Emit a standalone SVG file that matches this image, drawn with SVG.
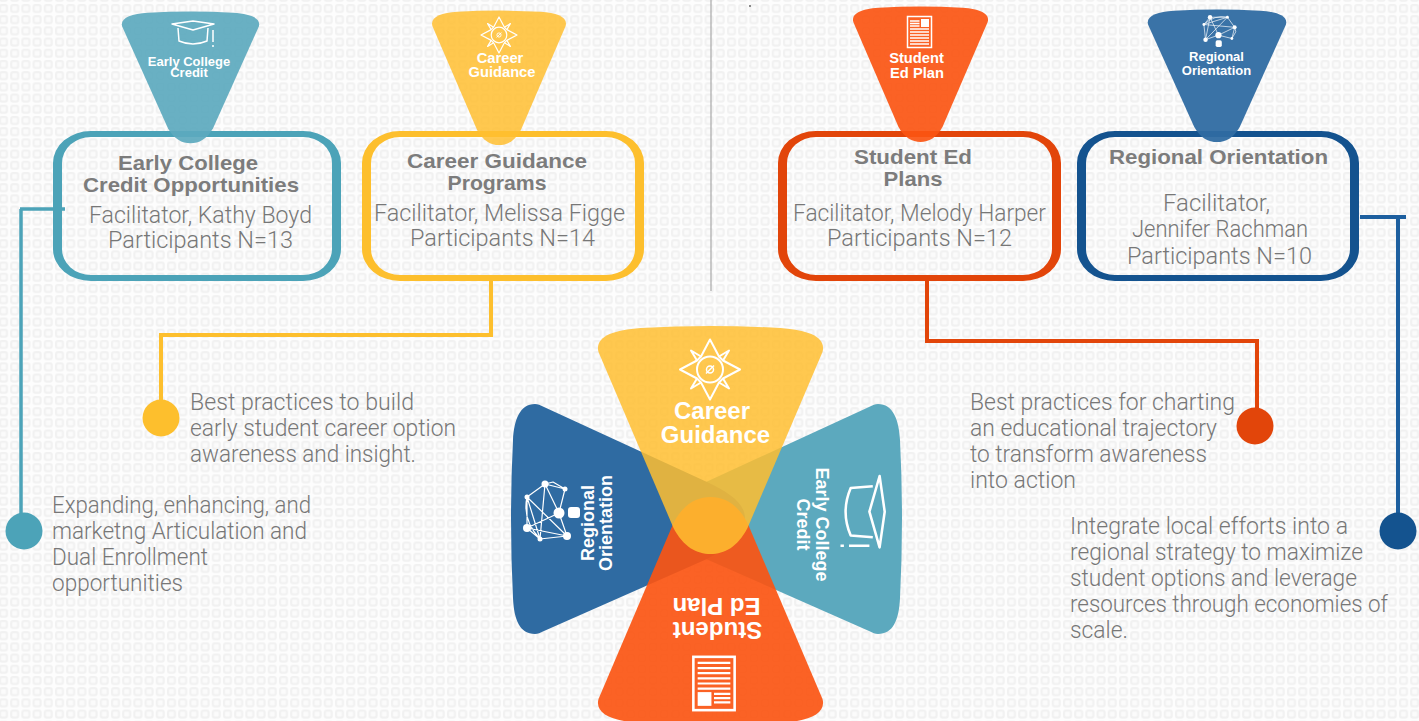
<svg xmlns="http://www.w3.org/2000/svg" width="1419" height="721" viewBox="0 0 1419 721">
<style>
.ft{font-family:"Liberation Sans",Arial,sans-serif;font-weight:700;fill:#fff;text-anchor:middle}
.tt{font-family:"Liberation Sans",Arial,sans-serif;font-weight:700;font-size:21px;fill:#7c7c7c;text-anchor:middle}
.bd{font-family:Roboto,"Liberation Sans",sans-serif;font-weight:300;font-size:24px;fill:#777}
.con{fill:none;stroke-width:4}
.ic{fill:none;stroke:#fff;stroke-linejoin:round}
.teal{fill:#5ca9be}.yel{fill:#ffbe30;fill-opacity:.85}.ora{fill:#fb5512;fill-opacity:.92}.blu{fill:#2f6ba2}
</style>
<defs>
<pattern id="bg" width="11.2" height="11.2" patternUnits="userSpaceOnUse" x="-2" y="3">
<rect width="11.2" height="11.2" fill="#fdfdfd"/>
<rect x="2" y="2" width="7" height="7" rx="2" fill="#fbfbfb" stroke="#f1f1f1" stroke-width="2"/>
</pattern>
<path id="funnel" d="M-112 27C-116 12-98 5-70 3Q0-1 70 3C98 5 116 12 112 27L37 203C27 222 14 229 0 229C-14 229-27 222-37 203Z"/>
<path id="side" d="M535 404C520 404 514 420 513 440Q509 519 513 598C514 620 520 634 535 634C538 634 540 633 544 631L707 559C730 547 745 535 745 519C745 503 730 493 707 482L544 407C540 405 538 404 535 404Z"/>
<g id="compass" class="ic" stroke-width="2">
<circle r="13"/>
<path d="M0-30L9-13L13-9L30 0L13 9L9 13L0 30L-9 13L-13 9L-30 0L-13-9L-9-13Z"/>
<path d="M9-13L19-19L13-9M13 9L19 19L9 13M-9 13L-19 19L-13 9M-13-9L-19-19L-9-13"/>
<path d="M-4 4L4-4" stroke-width="1.5"/><circle r="3.5" stroke-width="1.5"/>
</g>
<g id="cap" class="ic" stroke-width="1.5">
<path d="M-20-8L1-11L22-8L1-2Z"/>
<path d="M-14-4L-13 9Q1 15 15 9L16-4"/>
<path d="M21-2V10M21 13V15"/>
</g>
<g id="doc">
<rect x="-12" y="-15.500" width="24" height="31" fill="none" stroke="#fff" stroke-width="1.500"/>
<rect x="1.500" y="-13" width="8" height="8" fill="#fff"/>
<path d="M-9.500-11H0M-9.500-8.500H0M-9.500-6H0M-9.500-3H9.500M-9.500 0H9.500M-9.500 3H9.500M-9.500 6H9.500M-9.500 9H9.500M-9.500 12H9.500" stroke="#fff" stroke-width="1.300"/>
</g>
<g id="net">
<path class="ic" stroke-width="1.200" d="M-3-28L17-23L11 1L-21 16L-8 27L19 24L11 1M-3-28L-21-15L-21 16M-3-28L-8 27M-3-28L11 1M-21-15L19 24M-21-15L-8 27M-21 16L19 24M17-23L5-30L-3-28M-21-15Q-26 8-8 27"/>
<g fill="#fff"><circle cx="-3" cy="-28" r="3.500"/><circle cx="17" cy="-23" r="2.500"/><circle cx="-21" cy="-15" r="2.500"/><circle cx="11" cy="1" r="5.500"/><circle cx="-21" cy="16" r="4"/><circle cx="-8" cy="27" r="2.500"/><circle cx="19" cy="24" r="4"/><rect x="20" y="-5" width="12" height="11" rx="3"/></g>
</g>
</defs>
<rect width="1419" height="721" fill="url(#bg)"/>
<line x1="711" y1="0" x2="711" y2="291" stroke="#a9a9a9" stroke-width="1.200"/>
<circle cx="750" cy="6" r="1" fill="#666"/>

<g id="connectors">
<path class="con" stroke="#4ca3b8" style="stroke-width:3.500" d="M65 209H20M21 209V515"/>
<path class="con" stroke="#fdbf2d" d="M491 281V335H161V400"/>
<path class="con" stroke="#e2450a" d="M927 281V341H1257V410"/>
<path class="con" stroke="#1d5f9f" d="M1360 217H1406M1398 217V515"/>
</g>

<g id="box-early">
<path fill="#4ca3b8" fill-rule="evenodd" d="M91 131H303A38 32 0 0 1 341 163V249A38 32 0 0 1 303 281H91A38 32 0 0 1 53 249V163A38 32 0 0 1 91 131ZM91 137H303A29 26 0 0 1 332 163V249A29 26 0 0 1 303 275H91A29 26 0 0 1 62 249V163A29 26 0 0 1 91 137Z"/>
<use href="#funnel" class="teal" style="fill-opacity:.92" transform="translate(190.500,11) scale(.61,.577)"/>
<use href="#cap" transform="translate(192,32)"/>
<text class="ft" font-size="13" x="189" y="66">Early College</text>
<text class="ft" font-size="13" x="189" y="77">Credit</text>
<text class="tt" x="188" y="170" textLength="140" lengthAdjust="spacingAndGlyphs">Early College</text>
<text class="tt" x="191" y="192" textLength="216" lengthAdjust="spacingAndGlyphs">Credit Opportunities</text>
<text class="bd" x="89" y="223" textLength="223" lengthAdjust="spacingAndGlyphs">Facilitator, Kathy Boyd</text>
<text class="bd" x="108" y="248" textLength="185" lengthAdjust="spacingAndGlyphs">Participants N=13</text>
</g>
<g id="box-career">
<path fill="#fdbf2d" fill-rule="evenodd" d="M400 131H606A38 32 0 0 1 644 163V249A38 32 0 0 1 606 281H400A38 32 0 0 1 362 249V163A38 32 0 0 1 400 131ZM400 137H606A29 26 0 0 1 635 163V249A29 26 0 0 1 606 275H400A29 26 0 0 1 371 249V163A29 26 0 0 1 400 137Z"/>
<use href="#funnel" class="yel" transform="translate(499,10) scale(.595,.59)"/>
<use href="#compass" transform="translate(499,35) scale(.6)"/>
<text class="ft" font-size="14.700" x="500" y="63">Career</text>
<text class="ft" font-size="14.700" x="502" y="77">Guidance</text>
<text class="tt" x="497" y="168" textLength="180" lengthAdjust="spacingAndGlyphs">Career Guidance</text>
<text class="tt" x="497" y="190" textLength="99" lengthAdjust="spacingAndGlyphs">Programs</text>
<text class="bd" x="374" y="221" textLength="251" lengthAdjust="spacingAndGlyphs">Facilitator, Melissa Figge</text>
<text class="bd" x="410" y="246" textLength="185" lengthAdjust="spacingAndGlyphs">Participants N=14</text>
</g>
<g id="box-plan">
<path fill="#e2450a" fill-rule="evenodd" d="M816 131H1023A38 32 0 0 1 1061 163V249A38 32 0 0 1 1023 281H816A38 32 0 0 1 778 249V163A38 32 0 0 1 816 131ZM816 137H1023A29 26 0 0 1 1052 163V249A29 26 0 0 1 1023 275H816A29 26 0 0 1 787 249V163A29 26 0 0 1 816 137Z"/>
<use href="#funnel" class="ora" transform="translate(920.500,6) scale(.6,.594)"/>
<use href="#doc" transform="translate(919.500,32)"/>
<text class="ft" font-size="14.700" x="916.500" y="63">Student</text>
<text class="ft" font-size="14.700" x="917" y="78">Ed Plan</text>
<text class="tt" x="913" y="164" textLength="118" lengthAdjust="spacingAndGlyphs">Student Ed</text>
<text class="tt" x="913" y="186" textLength="59" lengthAdjust="spacingAndGlyphs">Plans</text>
<text class="bd" x="793" y="221" textLength="253" lengthAdjust="spacingAndGlyphs">Facilitator, Melody Harper</text>
<text class="bd" x="827" y="246" textLength="185" lengthAdjust="spacingAndGlyphs">Participants N=12</text>
</g>
<g id="box-regional">
<path fill="#14538f" fill-rule="evenodd" d="M1115 131H1321A38 32 0 0 1 1359 163V249A38 32 0 0 1 1321 281H1115A38 32 0 0 1 1077 249V163A38 32 0 0 1 1115 131ZM1115 137H1321A29 26 0 0 1 1350 163V249A29 26 0 0 1 1321 275H1115A29 26 0 0 1 1086 249V163A29 26 0 0 1 1115 137Z"/>
<use href="#funnel" class="blu" style="fill-opacity:.95" transform="translate(1217,9) scale(.615,.581)"/>
<use href="#net" transform="translate(1219,29) rotate(90) scale(.56)"/>
<text class="ft" font-size="13" x="1216.500" y="61">Regional</text>
<text class="ft" font-size="13" x="1216.500" y="75">Orientation</text>
<text class="tt" x="1218.500" y="164" textLength="219" lengthAdjust="spacingAndGlyphs">Regional Orientation</text>
<text class="bd" x="1163" y="211" textLength="107" lengthAdjust="spacingAndGlyphs">Facilitator,</text>
<text class="bd" x="1132" y="237" textLength="176" lengthAdjust="spacingAndGlyphs">Jennifer Rachman</text>
<text class="bd" x="1127" y="264" textLength="185" lengthAdjust="spacingAndGlyphs">Participants N=10</text>
</g>

<g id="note-early">
<circle cx="24" cy="531" r="18.500" fill="#4ca3b8"/>
<text class="bd" x="52" y="513" textLength="259" lengthAdjust="spacingAndGlyphs">Expanding, enhancing, and</text>
<text class="bd" x="52" y="539" textLength="255" lengthAdjust="spacingAndGlyphs">marketng Articulation and</text>
<text class="bd" x="52" y="565" textLength="156" lengthAdjust="spacingAndGlyphs">Dual Enrollment</text>
<text class="bd" x="52" y="591" textLength="131" lengthAdjust="spacingAndGlyphs">opportunities</text>
</g>
<g id="note-career">
<circle cx="161" cy="418" r="18.500" fill="#fdbf2d"/>
<text class="bd" x="190" y="410" textLength="224" lengthAdjust="spacingAndGlyphs">Best practices to build</text>
<text class="bd" x="190" y="436" textLength="266" lengthAdjust="spacingAndGlyphs">early student career option</text>
<text class="bd" x="190" y="462" textLength="226" lengthAdjust="spacingAndGlyphs">awareness and insight.</text>
</g>
<g id="note-plan">
<circle cx="1255" cy="426" r="18.500" fill="#e2450a"/>
<text class="bd" x="970" y="410" textLength="265" lengthAdjust="spacingAndGlyphs">Best practices for charting</text>
<text class="bd" x="970" y="436" textLength="247" lengthAdjust="spacingAndGlyphs">an educational trajectory</text>
<text class="bd" x="970" y="462" textLength="237" lengthAdjust="spacingAndGlyphs">to transform awareness</text>
<text class="bd" x="970" y="488" textLength="106" lengthAdjust="spacingAndGlyphs">into action</text>
</g>
<g id="note-regional">
<circle cx="1398" cy="531" r="18.500" fill="#14538f"/>
<text class="bd" x="1070" y="534" textLength="278" lengthAdjust="spacingAndGlyphs">Integrate local efforts into a</text>
<text class="bd" x="1070" y="560" textLength="293" lengthAdjust="spacingAndGlyphs">regional strategy to maximize</text>
<text class="bd" x="1070" y="586" textLength="287" lengthAdjust="spacingAndGlyphs">student options and leverage</text>
<text class="bd" x="1070" y="612" textLength="318" lengthAdjust="spacingAndGlyphs">resources through economies of</text>
<text class="bd" x="1070" y="638" textLength="58" lengthAdjust="spacingAndGlyphs">scale.</text>
</g>

<g id="center-early">
<use href="#side" class="teal" transform="translate(1413,0) scale(-1,1)"/>
</g>
<g id="center-regional">
<use href="#side" class="blu"/>
</g>
<g id="center-plan">
<use href="#funnel" class="ora" transform="translate(710.500,726) scale(1,-1)"/>
</g>
<g id="center-career">
<use href="#funnel" class="yel" transform="translate(710.500,325)"/>
</g>
<g id="center-labels">
<use href="#compass" transform="translate(710,369.500)"/>
<text class="ft" font-size="24" x="712" y="419">Career</text>
<text class="ft" font-size="24" x="715.500" y="443">Guidance</text>
<use href="#cap" transform="translate(866,510) rotate(90) scale(1.7)"/>
<text class="ft" font-size="18" transform="translate(816,524.500) rotate(90)">Early College</text>
<text class="ft" font-size="18" transform="translate(797,524.500) rotate(90)">Credit</text>
<use href="#doc" transform="translate(714,683.500) rotate(180) scale(1.72)"/>
<text class="ft" font-size="24" transform="translate(717.500,622) rotate(180)">Student</text>
<text class="ft" font-size="24" transform="translate(716.500,598) rotate(180)">Ed Plan</text>
<use href="#net" transform="translate(548,512)"/>
<text class="ft" font-size="18" transform="translate(594,523) rotate(-90)">Regional</text>
<text class="ft" font-size="18" transform="translate(612,523) rotate(-90)">Orientation</text>
</g>
</svg>
